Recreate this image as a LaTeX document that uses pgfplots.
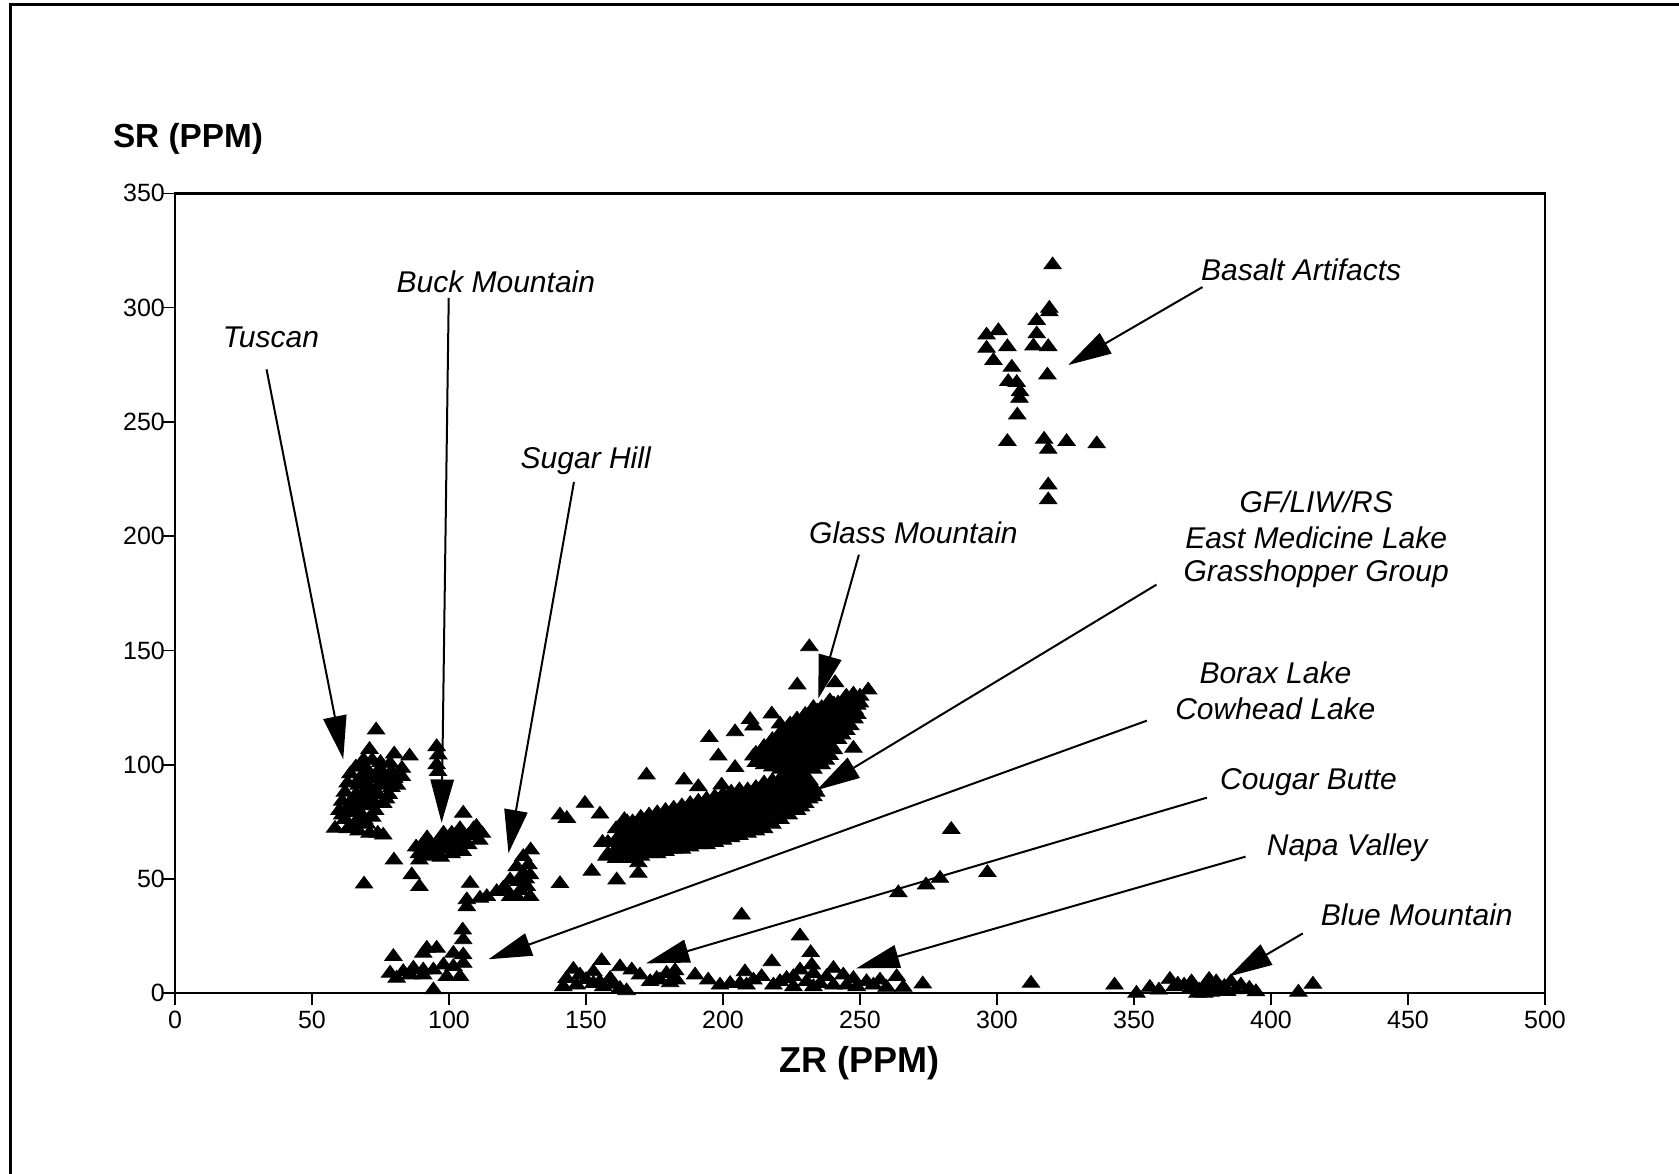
\documentclass[border=0pt]{standalone}
\usepackage{fontspec}
\setmainfont{Liberation Sans}
\usepackage{pgfplots}
\pgfplotsset{compat=1.18}
\usetikzlibrary{arrows.meta}
\tikzset{
  ann/.style={font=\fontsize{9}{10.9}\selectfont\itshape, align=center, inner sep=0pt},
  arr/.style={line width=0.6pt, -{Triangle[length=13pt,width=7pt]}},
}
\begin{document}
\begin{tikzpicture}
\useasboundingbox (0,0) rectangle (503.7pt,-352.2pt);
\draw[line width=0.9pt] (3pt,-352.2pt) -- (3pt,-1.5pt) -- (503.7pt,-1.5pt);
\begin{axis}[
  at={(52.5pt,-298pt)}, anchor=south west,
  scale only axis, width=411pt, height=240pt,
  xmin=0, xmax=500, ymin=0, ymax=350,
  xtick={0,50,...,500}, ytick={0,50,...,350},
  tick align=outside, tick pos=left,
  major tick length=3.5pt,
  axis line style={line width=0.7pt},
  every tick/.style={black, line width=0.5pt},
  tick label style={font=\fontsize{7.5}{9}\selectfont},
  xticklabel style={yshift=1.8pt},
  yticklabel style={xshift=4pt},
  /pgf/number format/assume math mode=true,
  clip=false,
]
\addplot[only marks, mark=triangle*, mark size=3pt,
  mark options={yscale=0.78, fill=black, draw=black, line width=0.25pt}]
coordinates {
% Tuscan
(73.4,115.2)(71,106.7)(80,104.7)(85.6,103.8)(68.8,102.1)(72,102)(75,101)(78.5,100.6)
(66,99)(70,98)(74,97)(82.8,98.4)(64,96)(68,95)(72,94)(76,95)(80,94)(82.8,94.8)
(63,92)(67,91)(71,90)(75,91)(79,90)(62,88)(66,87)(70,86)(74,87)(78,87)
(61,84)(65,83)(69,82)(73,83)(76,83)(60,80)(64,79)(68,78)(72,77)(62,76)(66,75)(70,74)
(58.4,72.2)(63,72)(67,71)(71,70)(74,70)(76,69.2)
(65,85)(69,88)(73,89)(77,92)(67,93)(71,96)(75,98)(79,97)(61,78)(65,73)(69,76)(73,80)
(77,85)(63,81)(67,80)(71,84)(68,99)(81,91)
% Buck Mountain
(95.5,107.9)(96.1,104.3)(95.5,100)(96,97)(105.2,78.8)
(90,64)(92,68)(94,62)(96,66)(98,70)(100,64)(102,68)(104,72)(106,66)(108,70)(110,73)(112,70)
(89,61)(93,60)(97,59.5)(101,61)(105,62)(99,67)(103,64)(107,69)(95,65)(91,66)
(91,63)(95,62)(99,63)(103,66)(107,65)(111,67)(93,66)(97,68)(101,70)(105,69)(109,72)(88,64)
% Sugar Hill
(129.8,62.7)(127.1,59.8)(129,56.2)(124.7,55.4)(127.1,52.5)(129.6,51.8)(122.3,49.6)(125.3,48.9)
(128.4,46.7)(119.8,46)(117.4,44.5)(113.8,42.3)(111.3,41.6)(122.3,42.3)(124.7,42.3)(129.6,42.3)
(121.1,45.2)(126,45)(128,50)
% scattered
(79.9,58.3)(89.2,58.3)(86.4,51.8)(89.2,46.7)(69,47.8)(107.7,48.1)(106.5,40.9)(106.5,37.9)
(140.5,78)(143,76.5)(140.5,48)(149.6,83.1)(155.1,78.4)(156,66)(157.5,60)(152.1,53.4)
(161.2,49.6)(169.1,52.5)(169.1,57.1)(165,75)(172.1,95.5)(185.8,93.3)(191,90.4)(198.3,103.8)
(204.4,98.8)(211.1,103.8)(195,111.9)(204.4,114.4)(209.9,119.8)(211.1,116.9)(217.8,122.2)
(220.8,117.8)(224.5,117.8)(227.1,134.9)(231.5,151.6)(240.9,135.9)(253,132.7)(247.6,130.9)
(247.6,107.2)(199.5,91.1)
% Basalt artifacts
(320.3,318.7)(319.1,299.7)(319.1,298.2)(314.5,294.3)(296.2,288)(300.5,289.9)(314.5,288.5)
(296.2,282.2)(303.8,282.9)(313.3,283.2)(318.7,282.9)(298.7,276.8)(305.4,273.9)(318.4,270.5)
(304.1,267.6)(307.2,267.2)(308.4,263.2)(308.2,260.3)(307.4,253)(303.8,241.4)(317.2,242.4)
(318.7,238)(325.4,241.4)(336.4,240.4)(318.7,222.4)(318.7,215.9)
% lower band (GF/LIW/RS etc.)
(158,61)(158,66)
(161,59)(161,63)(161,67)(161,72)
(164,60)(164,64)(164,68)(164,72)(164,76)
(167,59)(167,63)(167,67)(167,71)(167,75)
(170,60)(170,64)(170,68)(170,72)(170,77)
(173,61)(173,65)(173,69)(173,73)(173,78)
(176,61)(176,65)(176,70)(176,74)(176,79)
(179,62)(179,66)(179,70)(179,75)(179,80)
(182,63)(182,67)(182,71)(182,76)(182,81)
(185,63)(185,67)(185,72)(185,77)(185,82)
(188,64)(188,68)(188,73)(188,78)(188,83)
(191,65)(191,69)(191,74)(191,79)(191,84)
(194,65)(194,70)(194,75)(194,80)(194,85)
(197,66)(197,71)(197,76)(197,81)(197,86)
(200,67)(200,72)(200,77)(200,82)(200,87)
(203,68)(203,73)(203,78)(203,83)(203,88)
(206,69)(206,74)(206,79)(206,84)(206,89)
(209,70)(209,75)(209,80)(209,85)(209,89)
(212,71)(212,76)(212,81)(212,86)(212,90)
(215,72)(215,77)(215,82)(215,87)(215,92)
(218,74)(218,79)(218,84)(218,88)(218,93)
(221,76)(221,81)(221,85)(221,89)(221,94)
(224,78)(224,82)(224,86)(224,90)(224,95)
(227,80)(227,84)(227,88)(227,92)(227,96)
(230,83)(230,87)(230,91)(230,95)
(233,86)(233,90)
(162.5,65)(165.5,70)(168.5,65)(171.5,70)(174.5,67)(177.5,72)(180.5,68)(183.5,74)(186.5,70)
(189.5,76)(192.5,72)(195.5,78)(198.5,74)(201.5,80)(204.5,76)(207.5,82)(210.5,78)(213.5,84)
(216.5,80)(219.5,86)(222.5,84)(225.5,88)(228.5,90)
(162.5,61)(162.5,69.5)(165.5,62)(165.5,66)(165.5,74)(168.5,61)(168.5,69)(168.5,73)
(171.5,62)(171.5,66)(171.5,74.5)(174.5,63)(174.5,71)(174.5,75.5)(177.5,63)(177.5,67.5)(177.5,76.5)
(180.5,64)(180.5,72.5)(180.5,77.5)(183.5,65)(183.5,69)(183.5,78.5)(186.5,65)(186.5,74.5)(186.5,79.5)
(189.5,66)(189.5,70.5)(189.5,80.5)(192.5,67)(192.5,76.5)(192.5,81.5)(195.5,67.5)(195.5,72.5)(195.5,82.5)
(198.5,68.5)(198.5,78.5)(198.5,83.5)(201.5,69.5)(201.5,74.5)(201.5,84.5)(204.5,70.5)(204.5,80.5)(204.5,85.5)
(207.5,71.5)(207.5,76.5)(207.5,86.5)(210.5,72.5)(210.5,82.5)(210.5,87)(213.5,73.5)(213.5,78.5)(213.5,88)
(216.5,74.5)(216.5,84.5)(216.5,89.5)(219.5,76.5)(219.5,81.5)(219.5,90.5)(222.5,78.5)(222.5,87)(222.5,91.5)
(225.5,80)(225.5,84)(225.5,92.5)(228.5,81.5)(228.5,86)(228.5,94)(231.5,85)(231.5,89)(231.5,93)(234,88)
% upper band (Glass Mountain)
(212,101)(212,105)
(215,100)(215,104)(215,108)
(218,99)(218,103)(218,107)(218,111)
(221,98)(221,102)(221,106)(221,110)(221,114)
(224,98)(224,102)(224,106)(224,110)(224,114)(224,117)
(227,97)(227,101)(227,105)(227,109)(227,113)(227,117)(227,120)
(230,99)(230,103)(230,107)(230,111)(230,115)(230,119)(230,122)
(233,98)(233,102)(233,106)(233,110)(233,114)(233,118)(233,122)(233,125)
(236,100)(236,104)(236,108)(236,113)(236,117)(236,121)(236,125)
(239,104)(239,109)(239,113)(239,117)(239,121)(239,125)(239,128)
(242,111)(242,115)(242,119)(242,123)(242,127)
(245,115)(245,119)(245,123)(245,127)(245,130)
(248,120)(248,124)(248,128)
(250,127)(250,130)
(222.5,108)(225.5,112)(228.5,115)(231.5,117)(234.5,120)(237.5,123)(240.5,125)(243.5,125)
(225.5,100)(231.5,101)(234.5,112)(240.5,117)
(213.5,103)(216.5,102)(216.5,106)(219.5,101)(219.5,105)(219.5,109)(222.5,100)(222.5,104)(222.5,112)
(225.5,104)(225.5,108)(225.5,115.5)(228.5,99)(228.5,103)(228.5,107)(228.5,111)(228.5,118.5)
(231.5,105)(231.5,109)(231.5,113)(231.5,120.5)(234.5,100)(234.5,104)(234.5,108)(234.5,116)(234.5,123.5)
(237.5,102)(237.5,106)(237.5,110.5)(237.5,115)(237.5,119)
(240.5,106.5)(240.5,111)(240.5,115)(240.5,119)(240.5,123)(240.5,126.5)
(243.5,113)(243.5,117)(243.5,121)(246.5,117)(246.5,121)(246.5,125)(246.5,128.5)(249,122)(249,126)
% right outliers
(283.3,71.7)(296.5,52.8)(264,44)(274.1,47.4)(279.2,50.3)(206.8,34.2)(228.1,25.1)
(232,17.8)(232.4,12.4)(217.8,13.8)(155.7,14.3)(145.4,10.5)(312.4,4.4)(342.9,3.6)
(272.9,4.1)(265.8,2.6)(410,0.5)(415.3,4)
% Borax / Cowhead cluster
(105,27.7)(105.2,23.4)(79.7,16.1)(91.9,19.7)(95.5,19.7)(90.6,17.5)(101.6,17.5)(105.2,16.8)
(105.2,13.1)(78.5,8.8)(83.3,9.5)(87,11)(90.6,10.2)(94.3,10.2)(98,12.4)(101.6,11.7)
(80.9,6.6)(85.8,8)(90.6,8)(99.2,7.3)(104,7.3)(94.3,1.5)
% Cougar Butte bottom cluster
(162.4,11.6)(166.7,10.2)(152.7,9.4)(169.7,8)(147.8,8)(142.9,6.5)(158.8,6.5)(173.4,5.1)
(141.7,2.9)(146.6,3.6)(152.7,4.3)(156.3,2.9)(162.4,2.1)(164.8,1.1)(150,6)(155,5)(160,4)
(175.8,6.5)(179.4,8.7)(182.5,9.9)(177,5.8)(180.7,4.6)(183.1,5.8)
(189.8,8)(194.6,5.8)(198.9,3.6)(202.6,4.3)(208,9.4)(206.2,4.3)(211.1,5.8)(214.1,7.3)(208.6,3.6)
% Napa Valley cluster
(218.4,3.6)(223.2,6.5)(228.1,10.2)(233,8.7)(237.8,7.3)(240.3,10.9)(243.9,8)(247.6,6.5)
(225.7,2.9)(233,2.9)(240.3,3.6)(248.8,2.9)(252.4,5.1)(257.3,5.8)(263.4,7.3)
(220.8,5.1)(230.5,5.1)(245.1,3.6)(254.9,3.6)(259.7,2.6)(225.7,7.3)(235.4,4.3)
% Blue Mountain
(350.9,0)(355.8,2.6)(359.1,1.4)(363.1,6.1)(364.8,2.9)(368.3,3.6)(370.7,2.2)(373.8,1.4)
(375.6,0)(377.4,6.1)(379.3,2.6)(381.7,1.4)(385.4,5.1)(389,3.6)(392.1,2.2)(394.5,0.7)
(373.2,0)(366,4)(371,5)(376,3)(380,5)(383,3)(387,1.5)(378,0.5)(384,0.8)
};
% annotations
\node[ann] at (axis cs:35,287) {Tuscan};
\draw[arr] (axis cs:33.4,273) -- (axis cs:61.4,102.4);
\node[ann] at (axis cs:117.1,311.4) {Buck Mountain};
\draw[arr] (axis cs:99.9,304.3) -- (axis cs:97.3,74.6);
\node[ann] at (axis cs:149.9,233.1) {Sugar Hill};
\draw[arr] (axis cs:145.6,223.7) -- (axis cs:121.7,61.3);
\node[ann] at (axis cs:411,316.5) {Basalt Artifacts};
\draw[arr] (axis cs:375,309) -- (axis cs:326,274.9);
\node[ann] at (axis cs:269.5,201.7) {Glass Mountain};
\draw[arr] (axis cs:249.6,191.9) -- (axis cs:234.8,129);
\node[ann] at (axis cs:416.5,214.9) {GF/LIW/RS};
\node[ann] at (axis cs:416.5,199.4) {East Medicine Lake};
\node[ann] at (axis cs:416.5,183.5) {Grasshopper Group};
\draw[arr] (axis cs:358.2,178.8) -- (axis cs:234.2,88.9);
\node[ann] at (axis cs:401.6,140.4) {Borax Lake};
\node[ann] at (axis cs:401.6,124.4) {Cowhead Lake};
\draw[arr] (axis cs:354.7,119.3) -- (axis cs:114.4,14.9);
\node[ann] at (axis cs:413.7,92.6) {Cougar Butte};
\draw[arr] (axis cs:376.6,85.6) -- (axis cs:171.9,13.1);
\node[ann] at (axis cs:427.8,63.5) {Napa Valley};
\draw[arr] (axis cs:390.7,59.8) -- (axis cs:248.6,10.9);
\node[ann] at (axis cs:453.2,34.5) {Blue Mountain};
\draw[arr] (axis cs:411.6,26.2) -- (axis cs:384.7,7.4);
\end{axis}
\node[anchor=west, font=\fontsize{10}{12}\selectfont\bfseries, inner sep=0pt] at (33.7pt,-41.8pt) {SR (PPM)};
\node[font=\fontsize{10.8}{13}\selectfont\bfseries, inner sep=0pt] at (257.9pt,-319pt) {ZR (PPM)};
\end{tikzpicture}
\end{document}
